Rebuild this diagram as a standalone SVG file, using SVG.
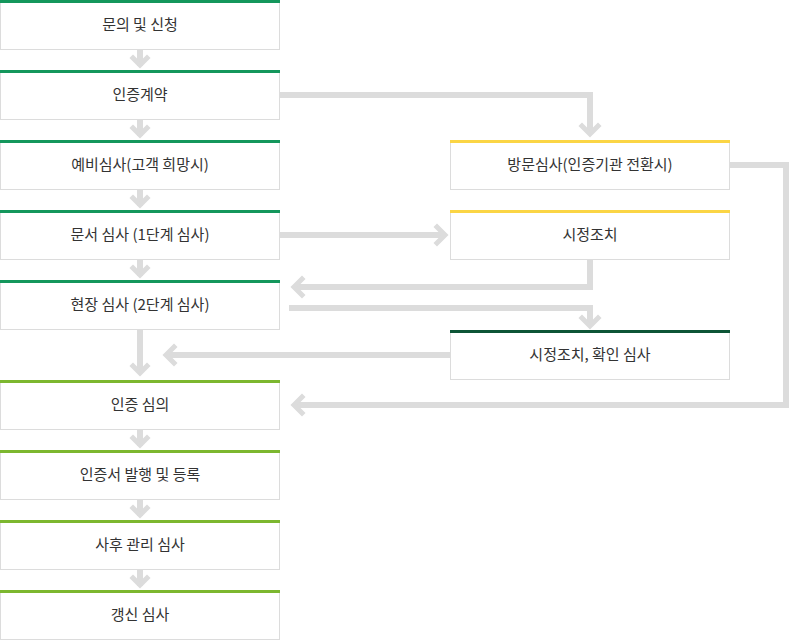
<svg xmlns="http://www.w3.org/2000/svg" width="792" height="640" viewBox="0 0 792 640">
<style>
.box{fill:#fff;stroke:#dcdcdc;stroke-width:1}
.t{font-family:"Noto Sans CJK KR","Noto Sans",sans-serif;font-size:15px;fill:#333;text-anchor:middle}
.c{fill:none;stroke:#dcdcdc;stroke-width:6}
.h{fill:none;stroke:#dcdcdc;stroke-width:5;stroke-linecap:square}
</style>
<rect width="792" height="640" fill="#fff"/>
<g id="connectors">
<path class="c" d="M140 50V66M140 120V136M140 190V206M140 260V276M140 330V372M140 430V446M140 500V516M140 570V586"/>
<path class="h" d="M133 58L140 65L147 58M133 128L140 135L147 128M133 198L140 205L147 198M133 268L140 275L147 268M133 366L140 373L147 366M133 438L140 445L147 438M133 508L140 515L147 508M133 578L140 585L147 578"/>
<path class="c" d="M280 95H590V132"/><path class="h" d="M582 126L590 134L598 126"/>
<path class="c" d="M730 165H786V405H296"/><path class="h" d="M302 397L294 405L302 413"/>
<path class="c" d="M280 235H443"/><path class="h" d="M437 227L445 235L437 243"/>
<path class="c" d="M590 259V287H296"/><path class="h" d="M302 279L294 287L302 295"/>
<path class="c" d="M289 308H590V324"/><path class="h" d="M582 318L590 326L598 318"/>
<path class="c" d="M450 355H168"/><path class="h" d="M174 347L166 355L174 363"/>
</g>
<g id="n1"><rect class="box" x="0.5" y="1.5" width="279" height="48"/><rect x="0" y="0" width="280" height="3" fill="#14975c"/><text class="t" x="140" y="30">문의 및 신청</text></g>
<g id="n2"><rect class="box" x="0.5" y="71.5" width="279" height="48"/><rect x="0" y="70" width="280" height="3" fill="#14975c"/><text class="t" x="140" y="100">인증계약</text></g>
<g id="n3"><rect class="box" x="0.5" y="141.5" width="279" height="48"/><rect x="0" y="140" width="280" height="3" fill="#14975c"/><text class="t" x="140" y="170">예비심사(고객 희망시)</text></g>
<g id="n4"><rect class="box" x="0.5" y="211.5" width="279" height="48"/><rect x="0" y="210" width="280" height="3" fill="#14975c"/><text class="t" x="140" y="240">문서 심사 (1단계 심사)</text></g>
<g id="n5"><rect class="box" x="0.5" y="281.5" width="279" height="48"/><rect x="0" y="280" width="280" height="3" fill="#14975c"/><text class="t" x="140" y="310">현장 심사 (2단계 심사)</text></g>
<g id="n6"><rect class="box" x="0.5" y="381.5" width="279" height="48"/><rect x="0" y="380" width="280" height="3" fill="#7cb72f"/><text class="t" x="140" y="410">인증 심의</text></g>
<g id="n7"><rect class="box" x="0.5" y="451.5" width="279" height="48"/><rect x="0" y="450" width="280" height="3" fill="#7cb72f"/><text class="t" x="140" y="480">인증서 발행 및 등록</text></g>
<g id="n8"><rect class="box" x="0.5" y="521.5" width="279" height="48"/><rect x="0" y="520" width="280" height="3" fill="#7cb72f"/><text class="t" x="140" y="550">사후 관리 심사</text></g>
<g id="n9"><rect class="box" x="0.5" y="591.5" width="279" height="48"/><rect x="0" y="590" width="280" height="3" fill="#7cb72f"/><text class="t" x="140" y="620">갱신 심사</text></g>
<g id="r1"><rect class="box" x="450.5" y="141.5" width="279" height="48"/><rect x="450" y="140" width="280" height="3" fill="#fbd545"/><text class="t" x="590" y="170">방문심사(인증기관 전환시)</text></g>
<g id="r2"><rect class="box" x="450.5" y="211.5" width="279" height="48"/><rect x="450" y="210" width="280" height="3" fill="#fbd545"/><text class="t" x="590" y="240">시정조치</text></g>
<g id="r3"><rect class="box" x="450.5" y="331.5" width="279" height="48"/><rect x="450" y="330" width="280" height="3" fill="#0d5536"/><text class="t" x="590" y="360">시정조치, 확인 심사</text></g>
</svg>
